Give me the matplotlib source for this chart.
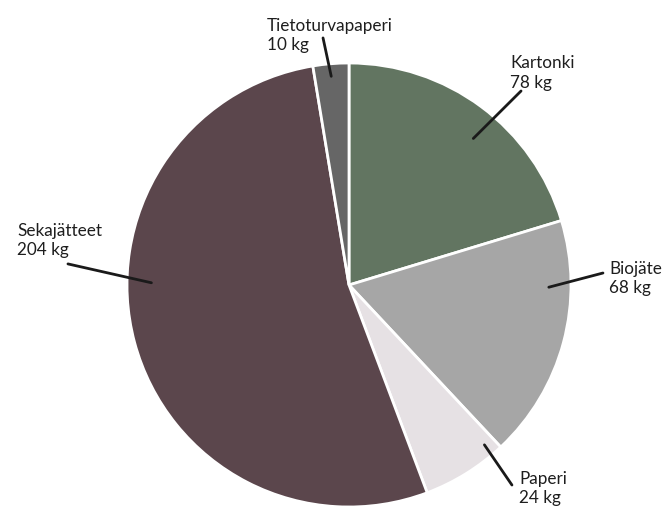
import matplotlib.pyplot as plt

# waste amounts by type
labels = ["Kartonki", "Biojäte", "Paperi", "Sekajätteet", "Tietoturvapaperi"]
amounts = [78, 68, 24, 204, 10]
colors = ["#627561", "#a6a6a6", "#e6e1e4", "#5b464c", "#666666"]

# leader lines: point in slice, line end, text anchor (pie radius = 1)
inner = [(0.56, 0.66), (0.90, -0.01), (0.61, -0.72), (-0.89, 0.01), (-0.08, 0.94)]
outer = [(0.775, 0.874), (1.144, 0.054), (0.734, -0.901), (-1.266, 0.095), (-0.117, 1.113)]
text_pos = [(0.725, 0.955), (1.171, 0.03), (0.766, -0.915), (-1.495, 0.20), (-0.369, 1.125)]

plt.rcParams["font.family"] = ["Lato", "DejaVu Sans"]

fig = plt.figure(figsize=(6.72, 5.09), dpi=100)
ax = fig.add_axes([0, 0, 1, 1])
ax.pie(amounts, colors=colors, startangle=90, counterclock=False,
       wedgeprops=dict(edgecolor="white", linewidth=2))

for lab, amt, p0, p1, pt in zip(labels, amounts, inner, outer, text_pos):
    ax.annotate("", xy=p0, xytext=p1,
                arrowprops=dict(arrowstyle="-", color="#1a1a1a", lw=2,
                                shrinkA=0, shrinkB=0))
    ax.text(pt[0], pt[1], f"{lab}\n{amt} kg", ha="left", va="center",
            fontsize=12.3, color="#1e1e1e", linespacing=1.25)

ax.set_xlim(-349 / 222, 323 / 222)
ax.set_ylim(-224 / 222, 285 / 222)
ax.set_aspect("equal")
ax.axis("off")

fig.savefig("out.png", dpi=100)
